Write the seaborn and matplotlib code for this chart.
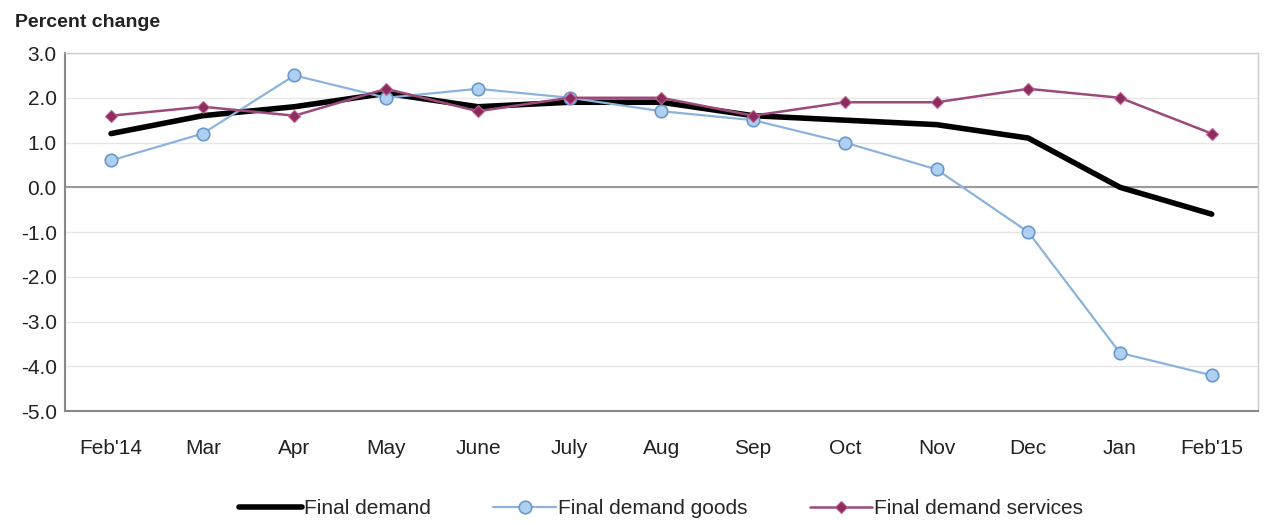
import pandas as pd
import matplotlib.pyplot as plt
import seaborn as sns

# Month labels and 12-month percent changes
months = ["Feb'14", 'Mar', 'Apr', 'May', 'June', 'July', 'Aug', 'Sep',
          'Oct', 'Nov', 'Dec', 'Jan', "Feb'15"]
final_demand = [1.2, 1.6, 1.8, 2.1, 1.8, 1.9, 1.9, 1.6, 1.5, 1.4, 1.1, 0.0, -0.6]
final_goods = [0.6, 1.2, 2.5, 2.0, 2.2, 2.0, 1.7, 1.5, 1.0, 0.4, -1.0, -3.7, -4.2]
final_services = [1.6, 1.8, 1.6, 2.2, 1.7, 2.0, 2.0, 1.6, 1.9, 1.9, 2.2, 2.0, 1.2]

sns.set_style('white')
plt.rcParams['font.family'] = ['Liberation Sans Narrow', 'Liberation Sans', 'DejaVu Sans']

df = pd.DataFrame({'month': months,
                   'Final demand': final_demand,
                   'Final demand goods': final_goods,
                   'Final demand services': final_services})

fig = plt.figure(figsize=(12.78, 5.25), dpi=100)
ax = fig.add_axes([0.051, 0.217, 0.933, 0.682])

# Draw the lines
sns.lineplot(data=df, x='month', y='Final demand', ax=ax, color='black',
             linewidth=4, label='Final demand', sort=False)
sns.lineplot(data=df, x='month', y='Final demand goods', ax=ax, color='#8db3dc',
             linewidth=1.6, marker='o', markersize=9, markerfacecolor='#aed1f2',
             markeredgecolor='#6b98cc', markeredgewidth=1.2,
             label='Final demand goods', sort=False)
sns.lineplot(data=df, x='month', y='Final demand services', ax=ax, color='#9c4a7c',
             linewidth=1.8, marker='D', markersize=6, markerfacecolor='#8a2c5c',
             markeredgecolor='#c45c96', markeredgewidth=0.8,
             label='Final demand services', sort=False)

ax.set_ylim(-5, 3)
ax.set_xlim(-0.5, len(months) - 0.5)
ax.set_yticks(range(-5, 4))
ax.set_yticklabels([f'{v:.1f}' for v in range(-5, 4)])
ax.set_xlabel('')
ax.set_ylabel('')
ax.tick_params(axis='both', labelsize=15, length=0, colors='#222222')
ax.tick_params(axis='x', pad=20)
ax.tick_params(axis='y', pad=6)

# Grid and zero line
ax.grid(axis='y', color='#e6e6e6', linewidth=1)
ax.set_axisbelow(True)
ax.axhline(0, color='#9a9a9a', linewidth=1.5, zorder=1)

for side in ['left', 'bottom']:
    ax.spines[side].set_color('#888888')
    ax.spines[side].set_linewidth(1.5)
for side in ['top', 'right']:
    ax.spines[side].set_color('#cccccc')
    ax.spines[side].set_linewidth(1)

fig.text(0.012, 0.958, 'Percent change', fontsize=14, fontweight='bold',
         color='#222222', va='center')

ax.legend(loc='upper center', bbox_to_anchor=(0.5, -0.194), ncol=3,
          frameon=False, fontsize=15, handlelength=3, handletextpad=0.1,
          columnspacing=3)

plt.savefig('out.png', dpi=100)
